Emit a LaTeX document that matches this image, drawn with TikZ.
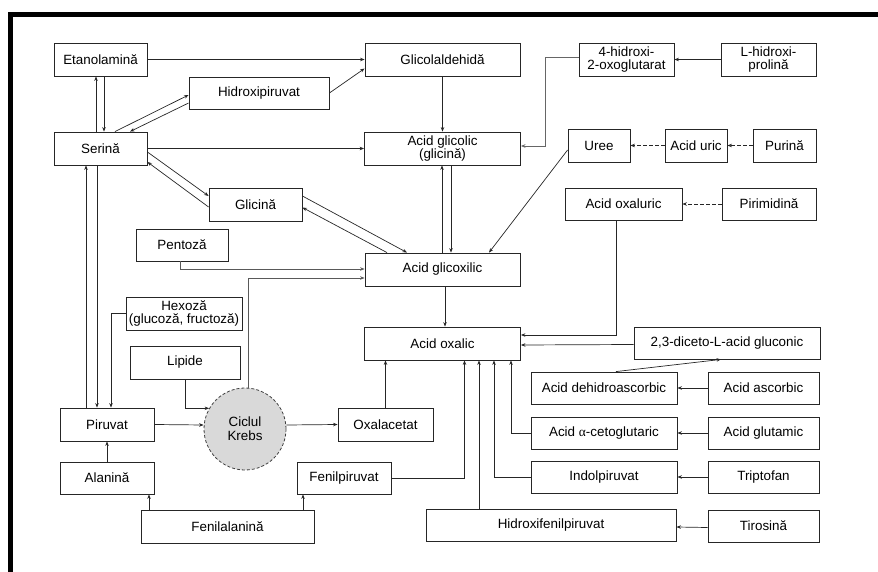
\documentclass[tikz,border=0pt]{standalone}
\usepackage{fontspec}
\setmainfont{Liberation Sans}
\newfontfamily\grkfont{Liberation Serif}
\usetikzlibrary{arrows.meta}
\begin{document}
\begin{tikzpicture}[x=1pt,y=-1pt,
  box/.style={draw=black!85, line width=0.85pt, inner sep=0pt, align=center,
    font=\fontsize{13.4}{13.8}\selectfont, minimum height=33pt},
  arr/.style={draw=black!85, line width=0.7pt, -{Stealth[length=4.5pt,width=3.5pt]}},
  darr/.style={arr, dash pattern=on 3.5pt off 2.5pt},
  krebsnode/.style={circle, draw=black!75, line width=0.8pt, dash pattern=on 3pt off 2pt,
    fill=gray!30, minimum size=82pt, inner sep=0pt, align=center,
    font=\fontsize{13.4}{13.8}\selectfont}]
\useasboundingbox (0,0) rectangle (878,572);
\draw[line width=5pt] (878,15) -- (10,15) -- (10,572);

% nodes
\node[box, minimum width=93pt] (eta) at (100.5,59.5) {Etanolamină};
\node[box, minimum width=140pt, minimum height=32pt] (hidp) at (259,93) {Hidroxipiruvat};
\node[box, minimum width=93pt] (ser) at (100.5,148.5) {Serină};
\node[box, minimum width=155pt] (gald) at (442.5,59.5) {Glicolaldehidă};
\node[box, minimum width=156pt] (agly) at (442.5,148.5) {Acid glicolic\\(glicină)};
\node[box, minimum width=95pt] (hox) at (626.5,59.5) {4-hidroxi-\\2-oxoglutarat};
\node[box, minimum width=95pt] (lhp) at (768.5,59.5) {L-hidroxi-\\prolină};
\node[box, minimum width=62pt] (uree) at (599,145.5) {Uree};
\node[box, minimum width=62pt] (auric) at (696,145.5) {Acid uric};
\node[box, minimum width=63pt] (pur) at (784.5,145.5) {Purină};
\node[box, minimum width=117pt, minimum height=32pt] (aoxu) at (623.5,204) {Acid oxaluric};
\node[box, minimum width=94pt, minimum height=32pt] (pirim) at (769,204) {Pirimidină};
\node[box, minimum width=93pt] (glic) at (255.5,204.5) {Glicină};
\node[box, minimum width=92pt, minimum height=32pt] (pent) at (182,245) {Pentoză};
\node[box, minimum width=155pt] (aglx) at (442.5,269.5) {Acid glicoxilic};
\node[box, minimum width=116pt] (hex) at (184,313.5) {Hexoză\\(glucoză, fructoză)};
\node[box, minimum width=110pt] (lip) at (185,362.5) {Lipide};
\node[box, minimum width=156pt] (aox) at (442.5,343.5) {Acid oxalic};
\node[box, minimum width=186pt, minimum height=32pt] (dic) at (727,343) {2,3-diceto-L-acid gluconic};
\node[box, minimum width=146pt, minimum height=32pt] (dha) at (604,388) {Acid dehidroascorbic};
\node[box, minimum width=111pt, minimum height=32pt] (asc) at (763.5,388) {Acid ascorbic};
\node[box, minimum width=146pt, minimum height=32pt] (akg) at (604,433) {Acid {\grkfont α}-cetoglutaric};
\node[box, minimum width=111pt, minimum height=32pt] (glu) at (763.5,433) {Acid glutamic};
\node[box, minimum width=146pt, minimum height=32pt] (ind) at (604,477) {Indolpiruvat};
\node[box, minimum width=111pt, minimum height=32pt] (trp) at (763.5,477) {Triptofan};
\node[box, minimum width=250pt, minimum height=32pt] (hfp) at (551,525) {Hidroxifenilpiruvat};
\node[box, minimum width=111pt, minimum height=32pt] (tyr) at (763.5,526) {Tirosină};
\node[box, minimum width=94pt] (pir) at (107,424.5) {Piruvat};
\node[krebsnode] (krebs) at (245,429) {Ciclul\\Krebs};
\node[box, minimum width=95pt] (oxa) at (385.5,424.5) {Oxalacetat};
\node[box, minimum width=94pt, minimum height=32pt] (ala) at (107,478) {Alanină};
\node[box, minimum width=94pt, minimum height=32pt] (fpir) at (344,478) {Fenilpiruvat};
\node[box, minimum width=173pt] (fala) at (227.5,526.5) {Fenilalanină};

% connectors
\draw[arr] (eta.east) -- (gald.west);
\draw[arr] (hidp.east) -- ([yshift=-9pt]gald.west);
\draw[arr] ([xshift=-4.5pt]ser.north) -- ([xshift=-4.5pt]eta.south);
\draw[arr] ([xshift=3.5pt]eta.south) -- ([xshift=3.5pt]ser.north);
\draw[arr] ([xshift=14.5pt]ser.north) -- ([yshift=-2pt]hidp.west);
\draw[arr] ([yshift=-10pt]hidp.west) -- ([xshift=29.5pt]ser.north);
\draw[arr] (ser.east) -- (agly.west);
\draw[arr] ([yshift=-3.5pt]ser.east) -- ([yshift=8.5pt]glic.west);
\draw[arr] ([yshift=-2.5pt]glic.west) -- ([yshift=-13.5pt]ser.east);
\draw[arr] ([yshift=8.5pt]glic.east) -- ([xshift=-35.5pt]aglx.north);
\draw[arr] ([xshift=-55.5pt]aglx.north) -- ([yshift=-3pt]glic.east);
\draw[arr] (gald.south) -- (agly.north);
\draw[arr, draw=black!60, line width=0.9pt] ([yshift=2pt]hox.west) -- ++(-33pt,0) |- ([yshift=2.5pt]agly.east);
\draw[arr] (lhp.west) -- (hox.east);
\draw[darr] (pur.west) -- (auric.east);
\draw[darr] (auric.west) -- (uree.east);
\draw[arr] ([yshift=-4.5pt]uree.west) -- ([xshift=46.5pt]aglx.north);
\draw[arr] ([xshift=-0.5pt]aglx.north) -- ([xshift=-0.5pt]agly.south);
\draw[arr] ([xshift=8.5pt]agly.south) -- ([xshift=8.5pt]aglx.north);
\draw[darr] (pirim.west) -- (aoxu.east);
\draw[arr] ([xshift=-7.5pt]aoxu.south) |- ([yshift=8.5pt]aox.east);
\draw[arr] ([yshift=-1.5pt]dic.west) -- ([yshift=-1.5pt]aox.east);
\draw[arr] ([xshift=12pt]dha.north) -- ([xshift=-6pt]dic.south);
\draw[arr] (asc.west) -- (dha.east);
\draw[arr] (glu.west) -- (akg.east);
\draw[arr] (trp.west) -- (ind.east);
\draw[arr] ([yshift=-1.5pt]tyr.west) -- ([yshift=-2pt]hfp.east);
\draw[arr] (akg.west) -| ([xshift=68.5pt]aox.south);
\draw[arr] (ind.west) -| ([xshift=51.5pt]aox.south);
\draw[arr] ([xshift=-72pt]hfp.north) -- ([xshift=36.5pt]aox.south);
\draw[arr] (fpir.east) -| ([xshift=22pt]aox.south);
\draw[arr] (oxa.north) -- ([xshift=-57pt]aox.south);
\draw[arr] ([xshift=2.5pt]aglx.south) -- ([xshift=2.5pt]aox.north);
\draw[arr, draw=black!65] ([xshift=-2pt]pent.south) |- ([yshift=0.5pt]aglx.west);
\draw[arr, draw=black!65] ([xshift=3pt]krebs.north) |- ([yshift=-8.5pt]aglx.west);
\draw[arr] (lip.south) |- (krebs.150);
\draw[arr] (pir.east) -- ([yshift=4pt]krebs.west);
\draw[arr] ([yshift=4pt]krebs.east) -- (oxa.west);
\draw[arr] ([xshift=-21pt]pir.north) -- ([xshift=-14.5pt]ser.south);
\draw[arr] ([xshift=-3.5pt]ser.south) -- ([xshift=-10pt]pir.north);
\draw[arr] (hex.west) -| ([xshift=4pt]pir.north);
\draw[arr] (ala.north) -- (pir.south);
\draw[arr] ([xshift=-78.5pt]fala.north) -- ([xshift=42pt]ala.south);
\draw[arr] ([xshift=75.5pt]fala.north) -- ([xshift=-41pt]fpir.south);
\end{tikzpicture}
\end{document}
